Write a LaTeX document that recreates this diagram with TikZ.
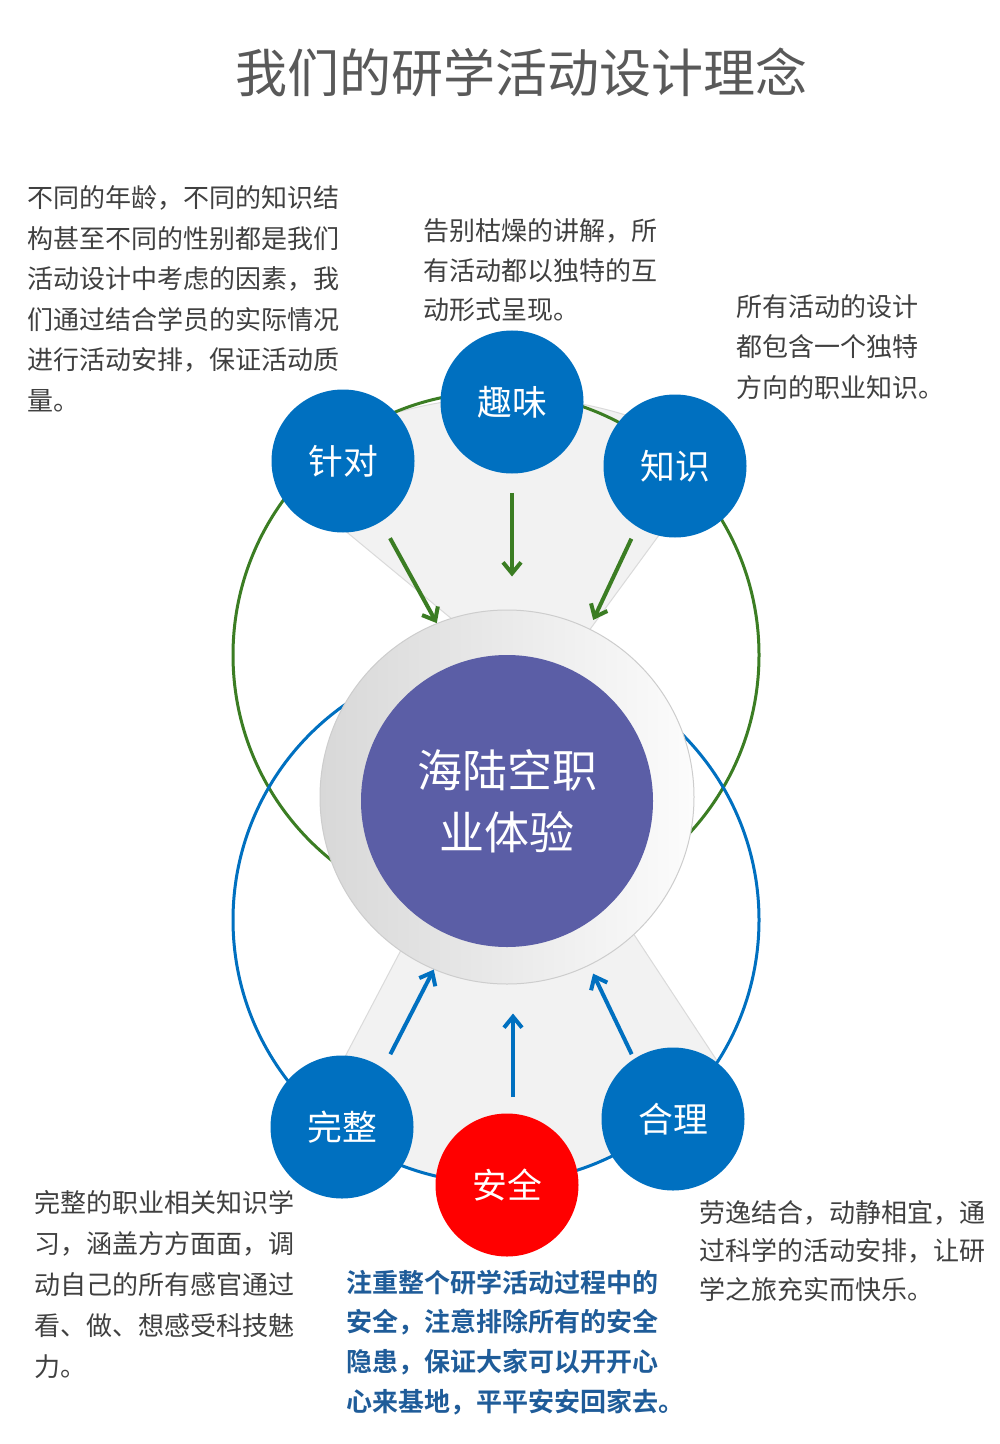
\documentclass[tikz,border=0pt]{standalone}
\usepackage{fontspec}
\setmainfont{Noto Sans CJK SC}[BoldFont={Noto Sans CJK SC Bold}]
\usetikzlibrary{arrows.meta,calc}
\definecolor{cblue}{RGB}{0,112,192}
\definecolor{cgreen}{RGB}{59,125,35}
\definecolor{cred}{RGB}{255,0,0}
\definecolor{cpurple}{RGB}{91,94,166}
\definecolor{txtgray}{RGB}{64,64,64}
\definecolor{titlegray}{RGB}{89,89,89}
\definecolor{boldblue}{RGB}{31,92,153}
\definecolor{fanfill}{RGB}{242,242,242}
\definecolor{fanedge}{RGB}{218,218,218}
\definecolor{ringL}{RGB}{216,216,216}
\definecolor{ringR}{RGB}{252,252,252}
\definecolor{ringB}{RGB}{205,205,205}
\tikzset{
  body/.style={font=\fontsize{13pt}{16pt}\selectfont, text=txtgray, inner sep=0pt, anchor=base west},
  bodybold/.style={font=\fontsize{13pt}{16pt}\selectfont\bfseries, text=boldblue, inner sep=0pt, anchor=base west},
  smallcirc/.style={circle, fill=cblue, minimum size=71.5pt, inner sep=0pt, text=white, font=\fontsize{17.4pt}{20pt}\selectfont},
  garrow/.style={draw=cgreen, line width=2pt, -{Straight Barb[length=5.5pt,width=9pt]}},
  barrow/.style={draw=cblue, line width=2pt, -{Straight Barb[length=5.5pt,width=9pt]}},
  fanstyle/.style={fill=fanfill, draw=fanedge, line width=0.5pt},
}
\begin{document}
\begin{tikzpicture}[x=0.5pt,y=-0.5pt]
\useasboundingbox[fill=white] (0,0) rectangle (1000,1444);
% title
\node[font=\fontsize{26pt}{30pt}\selectfont, text=titlegray, inner sep=0pt, anchor=base] (title) at (521,93) {我们的研学活动设计理念};
% fans
\path[fanstyle] (580,643) -- (716.5,456.6) -- plot[domain=58.4:125.6, samples=50] ({507+400*cos(\x)},{797-400*sin(\x)}) -- (274,472) -- (470,634) -- cycle;
\path[fanstyle] (410.6,931.8) -- (316,1112) -- plot[domain=-133.2:-32.6, samples=50] ({496+263*cos(\x)},{920-263*sin(\x)}) -- (717.6,1061.6) -- (617.6,909.6) -- cycle;
% big circles
\draw[cgreen, line width=1.5pt] (496,655) circle[radius=263];
\draw[cblue, line width=1.5pt] (496,920) circle[radius=263];
% centre
\node[circle, minimum size=187pt, inner sep=0pt, left color=ringL, right color=ringR, draw=ringB, line width=0.5pt] (ring) at (507,797) {};
\node[circle, minimum size=146pt, inner sep=0pt, fill=cpurple, text=white, align=center, font=\fontsize{22.5pt}{31pt}\selectfont] (core) at (507,801) {海陆空职\\业体验};
% small circles
\node[smallcirc] (zhendui) at (343,461) {\raisebox{-1pt}{针对}};
\node[smallcirc] (quwei) at (512,402) {\raisebox{-1pt}{趣味}};
\node[smallcirc] (zhishi) at (675,466) {\raisebox{-1pt}{知识}};
\node[smallcirc] (wanzheng) at (342,1127) {\raisebox{-1pt}{完整}};
\node[smallcirc, fill=cred] (anquan) at (507,1185) {\raisebox{-1pt}{安全}};
\node[smallcirc] (heli) at (673,1119) {\raisebox{-1pt}{合理}};
% arrows
\draw[garrow, shorten <=9.25pt] (zhendui.-58.6) -- (ring.112.4);
\draw[garrow, shorten <=9.5pt, shorten >=16.5pt] (quwei.south) -- (quwei.south |- ring.north);
\draw[garrow, shorten <=6.5pt, shorten >=4.7pt] (zhishi.238.6) -- (ring.64.3);
\draw[barrow, shorten <=7.8pt] (wanzheng.55.8) -- (ring.247.7);
\draw[barrow, shorten <=8pt, shorten >=14.5pt] ([xshift=3pt]anquan.north) -- ([xshift=3pt]anquan.north |- ring.south);
\draw[barrow, shorten <=2.5pt, shorten >=4.5pt] (heli.123.3) -- (ring.296);
% texts
\foreach \t [count=\i] in {不同的年龄，不同的知识结,构甚至不同的性别都是我们,活动设计中考虑的因素，我,们通过结合学员的实际情况,进行活动安排，保证活动质,量。}
  \node[body] (tl\i) at (27,{208+40.5*(\i-1)}) {\t};
\foreach \t [count=\i] in {告别枯燥的讲解，所,有活动都以独特的互,动形式呈现。}
  \node[body] (tm\i) at (423,{241+39.5*(\i-1)}) {\t};
\foreach \t [count=\i] in {所有活动的设计,都包含一个独特,方向的职业知识。}
  \node[body] (tr\i) at (736,{317+40*(\i-1)}) {\t};
\foreach \t [count=\i] in {完整的职业相关知识学,习，涵盖方方面面，调,动自己的所有感官通过,看、做、想感受科技魅,力。}
  \node[body] (bl\i) at (34,{1212+41*(\i-1)}) {\t};
\foreach \t [count=\i] in {注重整个研学活动过程中的,安全，注意排除所有的安全,隐患，保证大家可以开开心,心来基地，平平安安回家去。}
  \node[bodybold] (bm\i) at (346,{1292+39.7*(\i-1)}) {\t};
\foreach \t [count=\i] in {劳逸结合，动静相宜，通,过科学的活动安排，让研,学之旅充实而快乐。}
  \node[body] (br\i) at (699,{1222+38.7*(\i-1)}) {\t};
\end{tikzpicture}
\end{document}
